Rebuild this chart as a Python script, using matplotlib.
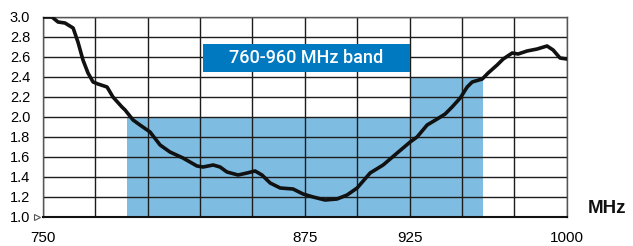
import matplotlib.pyplot as plt
from matplotlib.patches import Rectangle

# curve
freq = [750.1, 754.4, 757.3, 760.6, 764.5, 766.8, 769.2, 771.6, 774.0, 776.4,
        780.7, 783.5, 787.8, 789.3, 793.1, 796.4, 801.2, 806.0, 810.7, 816.9,
        823.6, 826.5, 831.3, 834.6, 837.9, 843.2, 847.5, 851.3, 854.6, 858.5,
        863.3, 869.4, 874.2, 879.0, 884.7, 890.4, 895.2, 900.0, 906.2, 912.4,
        919.1, 925.3, 928.6, 933.4, 938.2, 942.0, 945.3, 949.2, 952.5, 954.9,
        959.7, 962.5, 966.8, 969.7, 974.0, 976.8, 981.1, 985.9, 990.6, 993.5,
        996.8, 1000.0]
vswr = [3.00, 3.00, 2.95, 2.94, 2.89, 2.75, 2.57, 2.44, 2.35, 2.33,
        2.30, 2.20, 2.10, 2.07, 1.97, 1.92, 1.85, 1.72, 1.65, 1.59,
        1.51, 1.50, 1.52, 1.50, 1.45, 1.42, 1.44, 1.46, 1.42, 1.34,
        1.29, 1.28, 1.23, 1.20, 1.17, 1.18, 1.22, 1.29, 1.44, 1.52,
        1.64, 1.75, 1.80, 1.92, 1.98, 2.03, 2.10, 2.19, 2.30, 2.35,
        2.38, 2.44, 2.52, 2.58, 2.64, 2.63, 2.66, 2.68, 2.71, 2.67,
        2.59, 2.58]

# shaded limit (start freq, width, limit)
band_start = [790, 925]
band_width = [135, 35]
band_limit = [2.0, 2.4]

xticks = list(range(750, 1001, 25))
xlabels = ["750", "", "", "", "", "875", "", "925", "", "", "1000"]
yticks = [1.0, 1.2, 1.4, 1.6, 1.8, 2.0, 2.2, 2.4, 2.6, 2.8, 3.0]

fig = plt.figure(figsize=(6.33, 2.46), dpi=100)
ax = fig.add_axes([0.0675, 0.1179, 0.8278, 0.813])

ax.bar(band_start, [v - 1.0 for v in band_limit], width=band_width, bottom=1.0,
       align="edge", color="#7fbce1", linewidth=0, zorder=0.3)

ax.set_xlim(750, 1000)
ax.set_ylim(1.0, 3.0)
ax.set_xticks(xticks)
ax.set_xticklabels(xlabels, fontsize=11, family="Liberation Sans")
ax.set_yticks(yticks)
ax.set_yticklabels([f"{v:.1f}" for v in yticks], fontsize=10.5, family="Liberation Sans")
ax.tick_params(axis="x", length=0, pad=10)
ax.tick_params(axis="y", length=0, pad=9)
ax.grid(True, color="#1c1c1c", linewidth=1.0, zorder=1)

for side in ["top", "right", "left"]:
    ax.spines[side].set_color("#555555")
    ax.spines[side].set_linewidth(1.0)
ax.spines["bottom"].set_color("#111111")
ax.spines["bottom"].set_linewidth(1.5)

# label box
ax.add_patch(Rectangle((826.3, 2.453), 98.7, 0.277, facecolor="#0079c1",
                       edgecolor="none", zorder=3))
ax.text(875.6, 2.59, "760-960 MHz band", color="white", fontsize=13,
        family="Roboto", fontweight="medium", ha="center", va="center", zorder=4)

ax.plot(freq, vswr, color="#111111", linewidth=2.6, zorder=5,
        solid_capstyle="round", solid_joinstyle="round")

ax.plot([747.3], [1.0], marker=">", markersize=4, markerfacecolor="white",
        markeredgecolor="#555555", markeredgewidth=0.8, clip_on=False, zorder=6)

fig.text(607 / 633, 1 - 208.5 / 246, "MHz", fontsize=13.5, fontweight="bold",
         family="Liberation Sans", ha="center", va="center", color="#111111")

fig.savefig("out.png", dpi=100)
